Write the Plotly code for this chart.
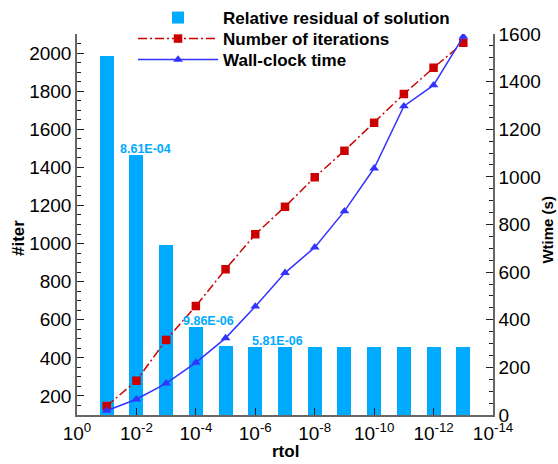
import numpy as np
import plotly.graph_objects as go

# ---- data ----
rtol = [1e-1, 1e-2, 1e-3, 1e-4, 1e-5, 1e-6, 1e-7, 1e-8, 1e-9, 1e-10, 1e-11, 1e-12, 1e-13]
residual = [1.13e-2, 8.61e-4, 8.30e-5, 9.86e-6, 5.95e-6, 5.81e-6, 5.81e-6, 5.81e-6,
            5.81e-6, 5.81e-6, 5.81e-6, 5.81e-6, 5.81e-6]
iterations = [147, 280, 494, 672, 865, 1049, 1193, 1348, 1487, 1634, 1785, 1923, 2054]
wtime = [18, 66, 133, 220, 323, 456, 597, 704, 856, 1036, 1297, 1385, 1589]
labelled = {1e-2: "8.61E-04", 1e-4: "9.86E-06", 1e-6: "5.81E-06"}
x_ticks = [0, -2, -4, -6, -8, -10, -12, -14]
x_ticktext = ["10<sup>%d</sup>" % v for v in x_ticks]

xpos = np.log10(rtol)
FONT = "Liberation Sans, Arial, Helvetica, sans-serif"
BAR = "#00AAFF"
RED = "#CC0000"
BLUE = "#3333FF"

fig = go.Figure()
fig.add_trace(go.Bar(x=xpos, y=residual, width=0.47, marker=dict(color=BAR, line=dict(width=0)),
                     name="<b>Relative residual of solution</b>", yaxis="y", legend="legend"))
fig.add_trace(go.Scatter(x=xpos, y=wtime, mode="lines+markers", name="<b>Wall-clock time</b>",
                         line=dict(color=BLUE, width=1.5),
                         marker=dict(symbol="triangle-up", size=8.5, color=BLUE), yaxis="y3",
                         legend="legend3"))
fig.add_trace(go.Scatter(x=xpos, y=iterations, mode="lines+markers", name="<b>Number of iterations</b>",
                         line=dict(color=RED, width=1.5, dash="9px,3px,2px,3px"),
                         marker=dict(symbol="square", size=8.5, color=RED), yaxis="y2",
                         legend="legend2"))

shifts = {1e-2: 9, 1e-4: 13, 1e-6: 22}
for r, txt in labelled.items():
    i = rtol.index(r)
    fig.add_annotation(x=float(xpos[i]), y=float(np.log10(residual[i])), xref="x", yref="y",
                       text="<b>%s</b>" % txt, showarrow=False, yanchor="bottom",
                       xshift=shifts[r], yshift=-3, font=dict(family=FONT, size=12.5, color=BAR))

# axis titles
fig.add_annotation(x=-0.1394, y=0.4646, xref="paper", yref="paper", text="<b>#iter</b>",
                   xanchor="center", yanchor="middle",
                   textangle=-90, showarrow=False, font=dict(family=FONT, size=17, color="black"))
fig.add_annotation(x=1.131, y=0.488, xref="paper", yref="paper", text="<b>Wtime (s)</b>",
                   xanchor="center", yanchor="middle",
                   textangle=-90, showarrow=False, font=dict(family=FONT, size=15, color="black"))
fig.add_annotation(x=0.5, y=-0.0971, xref="paper", yref="paper", text="<b>rtol</b>",
                   xanchor="center", yanchor="middle",
                   showarrow=False, font=dict(family=FONT, size=17, color="black"))

axis_common = dict(showgrid=False, zeroline=False, showline=True, linecolor="#666666", linewidth=1.5,
                   ticks="inside", tickcolor="#222222", ticklen=7, tickwidth=1,
                   tickfont=dict(family=FONT, size=19, color="black"))

legend_common = dict(xref="container", yref="container", x=0.2384, xanchor="left", yanchor="top",
                     bgcolor="rgba(0,0,0,0)", font=dict(family=FONT, size=17, color="black"),
                     itemwidth=80)

fig.update_layout(
    width=558, height=464,
    margin=dict(l=77, r=65, t=34, b=49, autoexpand=False),
    paper_bgcolor="white", plot_bgcolor="white",
    bargap=0,
    showlegend=True,
    legend=dict(legend_common, y=1.0),
    legend2=dict(legend_common, y=1 - 21 / 464),
    legend3=dict(legend_common, y=1 - 42 / 464),
    xaxis=dict(axis_common, range=[0, -14], tickvals=x_ticks, ticktext=x_ticktext, mirror=False),
    yaxis=dict(type="log", range=[-6, float(np.log10(0.02))], visible=False, showgrid=False),
    yaxis2=dict(axis_common, overlaying="y", side="left", range=[100, 2100], tick0=0, dtick=200,
                minor=dict(dtick=50, ticks="inside", ticklen=4, tickcolor="#222222")),
    yaxis3=dict(axis_common, overlaying="y", side="right", range=[0, 1600], tick0=0, dtick=200,
                minor=dict(dtick=50, ticks="inside", ticklen=4, tickcolor="#222222")),
)

fig.write_html("out.html", config={"displayModeBar": False},
               post_script="document.body.style.margin='0';")
